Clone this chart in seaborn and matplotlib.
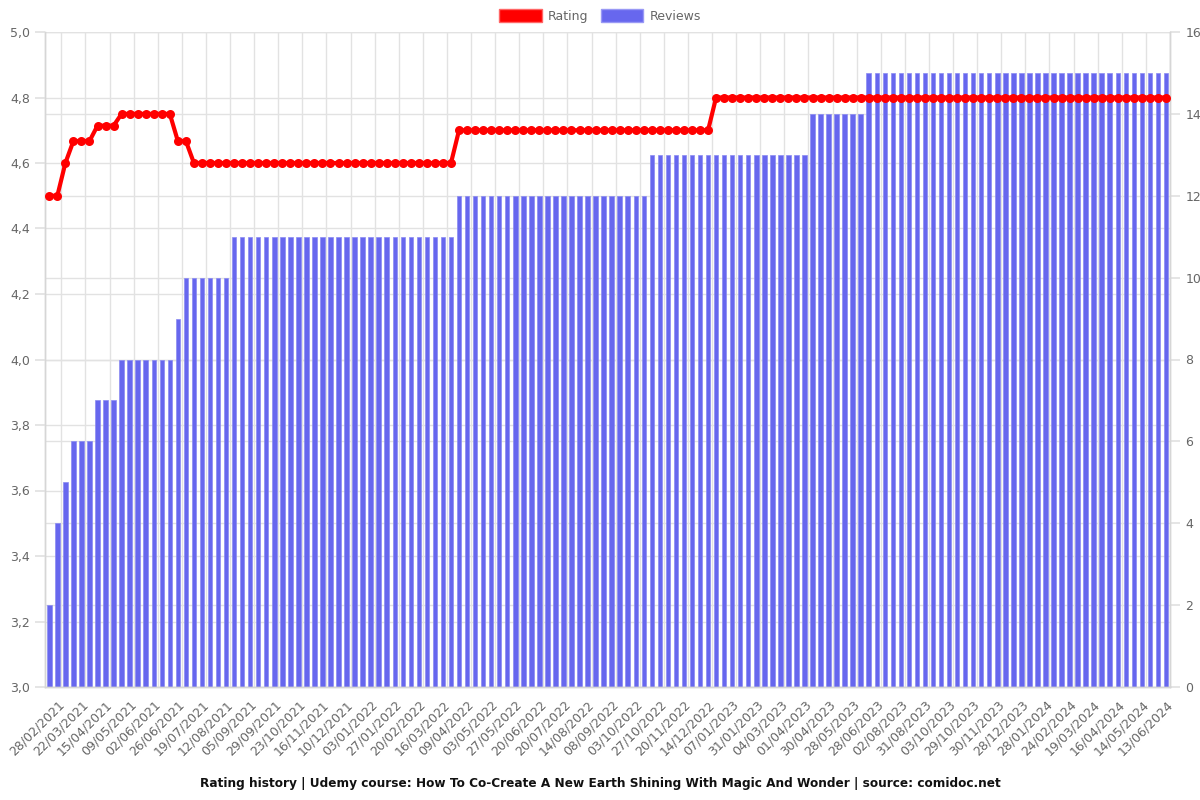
import matplotlib
matplotlib.use("Agg")
import matplotlib.pyplot as plt
from matplotlib.patches import Patch
from matplotlib.ticker import FixedLocator, FuncFormatter
import seaborn as sns
import pandas as pd

# ---- data ----
tick_labels = [
    "28/02/2021", "22/03/2021", "15/04/2021", "09/05/2021", "02/06/2021", "26/06/2021",
    "19/07/2021", "12/08/2021", "05/09/2021", "29/09/2021", "23/10/2021", "16/11/2021",
    "10/12/2021", "03/01/2022", "27/01/2022", "20/02/2022", "16/03/2022", "09/04/2022",
    "03/05/2022", "27/05/2022", "20/06/2022", "20/07/2022", "14/08/2022", "08/09/2022",
    "03/10/2022", "27/10/2022", "20/11/2022", "14/12/2022", "07/01/2023", "31/01/2023",
    "04/03/2023", "01/04/2023", "30/04/2023", "28/05/2023", "28/06/2023", "02/08/2023",
    "31/08/2023", "03/10/2023", "29/10/2023", "30/11/2023", "28/12/2023", "28/01/2024",
    "24/02/2024", "19/03/2024", "16/04/2024", "14/05/2024", "13/06/2024",
]

reviews = [
    2, 4, 5, 6, 6, 6, 7, 7, 7, 8, 8, 8, 8, 8, 8, 8, 9, 10, 10, 10,
    10, 10, 10, 11, 11, 11, 11, 11, 11, 11, 11, 11, 11, 11, 11, 11, 11, 11, 11, 11,
    11, 11, 11, 11, 11, 11, 11, 11, 11, 11, 11, 12, 12, 12, 12, 12, 12, 12, 12, 12,
    12, 12, 12, 12, 12, 12, 12, 12, 12, 12, 12, 12, 12, 12, 12, 13, 13, 13, 13, 13,
    13, 13, 13, 13, 13, 13, 13, 13, 13, 13, 13, 13, 13, 13, 13, 14, 14, 14, 14, 14,
    14, 14, 15, 15, 15, 15, 15, 15, 15, 15, 15, 15, 15, 15, 15, 15, 15, 15, 15, 15,
    15, 15, 15, 15, 15, 15, 15, 15, 15, 15, 15, 15, 15, 15, 15, 15, 15, 15, 15, 15,
]

rating = [
    4.5, 4.5, 4.6, 4.667, 4.667, 4.667, 4.714, 4.714, 4.714, 4.75,
    4.75, 4.75, 4.75, 4.75, 4.75, 4.75, 4.667, 4.667, 4.6, 4.6,
    4.6, 4.6, 4.6, 4.6, 4.6, 4.6, 4.6, 4.6, 4.6, 4.6,
    4.6, 4.6, 4.6, 4.6, 4.6, 4.6, 4.6, 4.6, 4.6, 4.6,
    4.6, 4.6, 4.6, 4.6, 4.6, 4.6, 4.6, 4.6, 4.6, 4.6,
    4.6, 4.7, 4.7, 4.7, 4.7, 4.7, 4.7, 4.7, 4.7, 4.7,
    4.7, 4.7, 4.7, 4.7, 4.7, 4.7, 4.7, 4.7, 4.7, 4.7,
    4.7, 4.7, 4.7, 4.7, 4.7, 4.7, 4.7, 4.7, 4.7, 4.7,
    4.7, 4.7, 4.7, 4.8, 4.8, 4.8, 4.8, 4.8, 4.8, 4.8,
    4.8, 4.8, 4.8, 4.8, 4.8, 4.8, 4.8, 4.8, 4.8, 4.8,
    4.8, 4.8, 4.8, 4.8, 4.8, 4.8, 4.8, 4.8, 4.8, 4.8,
    4.8, 4.8, 4.8, 4.8, 4.8, 4.8, 4.8, 4.8, 4.8, 4.8,
    4.8, 4.8, 4.8, 4.8, 4.8, 4.8, 4.8, 4.8, 4.8, 4.8,
    4.8, 4.8, 4.8, 4.8, 4.8, 4.8, 4.8, 4.8, 4.8, 4.8,
]

rating_ticks = [3.0, 3.2, 3.4, 3.6, 3.8, 4.0, 4.2, 4.4, 4.6, 4.8, 5.0]
review_ticks = [0, 2, 4, 6, 8, 10, 12, 14, 16]

n = len(reviews)
df = pd.DataFrame({"idx": list(range(n)), "reviews": reviews, "rating": rating})

sns.set_theme(style="white")
plt.rcParams["font.family"] = ["DejaVu Sans"]

GRID = "#e2e2e2"
TXT = "#666666"
BAR = "#6767ee"
RED = "#ff0000"

fig = plt.figure(figsize=(12, 8), dpi=100)
ax_b = fig.add_axes([45.3 / 1200, 1 - 687 / 800, (1170 - 45.3) / 1200, (687 - 32) / 800])

# bars (right axis)
sns.barplot(data=df, x="idx", y="reviews", ax=ax_b, color=BAR, saturation=1,
            width=0.56, edgecolor="#8a8af2", linewidth=0.5, native_scale=True, zorder=2)
ax_b.set_xlim(-0.5, n - 0.5)
ax_b.set_ylim(0, 16)
ax_b.set_xlabel("")
ax_b.set_ylabel("")

# line (left axis)
ax_l = ax_b.twinx()
sns.lineplot(data=df, x="idx", y="rating", ax=ax_l, color=RED, linewidth=3,
             marker="o", markersize=6.5, markeredgewidth=0, zorder=5)
ax_l.set_ylim(3.0, 5.0)
ax_l.set_xlim(-0.5, n - 0.5)
ax_l.set_xlabel("")
ax_l.set_ylabel("")

# put the rating axis on the left, the review axis on the right
ax_l.yaxis.tick_left()
ax_l.yaxis.set_label_position("left")
ax_b.yaxis.tick_right()
ax_b.yaxis.set_label_position("right")
ax_l.set_yticks(rating_ticks)
ax_l.yaxis.set_major_formatter(FuncFormatter(lambda v, p: f"{v:.1f}".replace(".", ",")))
ax_b.set_yticks(review_ticks)

# horizontal grids from both axes (drawn on the bar axes, behind bars)
ax_b.yaxis.grid(True, color=GRID, linewidth=1)
ax_b.set_axisbelow(True)
for y in rating_ticks:
    ax_b.axhline((y - 3.0) * 8, color=GRID, linewidth=1, zorder=0)

# x ticks: labels at every 3rd bar, grid lines between
label_pos = list(range(1, n, 3))
ax_b.xaxis.set_major_locator(FixedLocator(label_pos))
ax_b.set_xticklabels(tick_labels, rotation=45, ha="right", rotation_mode="anchor",
                     fontsize=9, color=TXT)
ax_b.tick_params(axis="x", which="major", length=0, pad=8)
ax_b.xaxis.set_minor_locator(FixedLocator([p + 0.5 for p in label_pos]))
ax_b.tick_params(axis="x", which="minor", length=6, color=GRID, width=1)
ax_b.xaxis.grid(True, which="minor", color=GRID, linewidth=1)

ax_b.tick_params(axis="y", length=7, color=GRID, labelsize=9, labelcolor=TXT, pad=4)
ax_l.tick_params(axis="y", length=7, color=GRID, labelsize=9, labelcolor=TXT, pad=4)

for a in (ax_b, ax_l):
    for s in ("left", "right", "bottom"):
        a.spines[s].set_color("#d6d6d6")
        a.spines[s].set_linewidth(1)
    a.spines["top"].set_visible(False)

ax_l.set_zorder(ax_b.get_zorder() + 1)
ax_l.patch.set_visible(False)

handles = [Patch(facecolor=RED, edgecolor="#ff6666", label="Rating"),
           Patch(facecolor=BAR, edgecolor="#9999f5", label="Reviews")]
fig.legend(handles=handles, loc="upper center", bbox_to_anchor=(0.5, 1.003), ncol=2,
           frameon=False, fontsize=9, handlelength=3.4, handleheight=1.3,
           columnspacing=1.0, handletextpad=0.5, labelcolor=TXT)

fig.text(0.5, 1 - 783 / 800, "Rating history | Udemy course: How To Co-Create A New Earth "
         "Shining With Magic And Wonder | source: comidoc.net",
         ha="center", va="center", fontsize=8.7, fontweight="bold", color="#111111")

fig.savefig("out.png", dpi=100)
